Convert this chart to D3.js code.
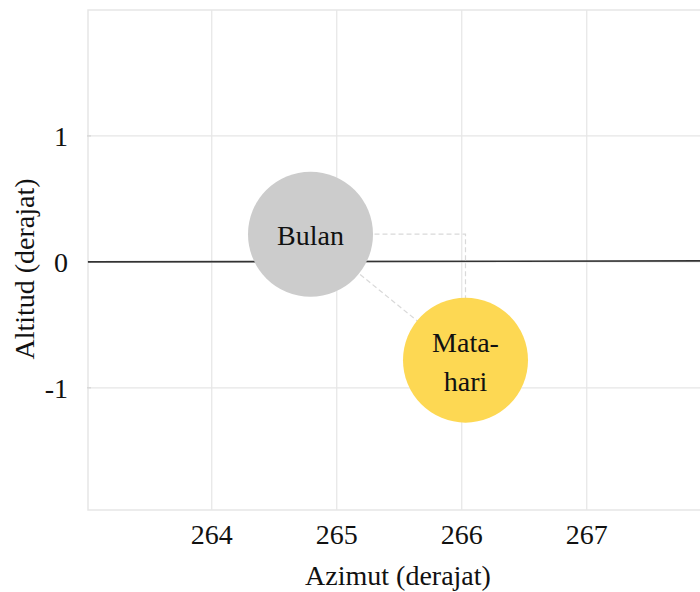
<!DOCTYPE html>
<html>
<head>
<meta charset="utf-8">
<script src="https://cdn.jsdelivr.net/npm/d3@7"></script>
<style>
  body { margin: 0; background: #fff; }
  svg { display: block; font-family: "Liberation Serif", "DejaVu Serif", serif; }
</style>
</head>
<body>
<div class="chart"></div>
<script>
// data
const bodyNames = ['Bulan', 'Matahari'];
const bodyLabels = [['Bulan'], ['Mata-', 'hari']];
const bodyAzimuth = [264.79, 266.03];
const bodyAltitude = [0.22, -0.78];
const bodyRadius = [0.5, 0.5];
const bodyColors = ['#cccccc', '#fdd853'];
const horizonAzimuth = [263.01, 267.97];
const horizonAltitude = [0.0, 0.008];
const xTicks = [264, 265, 266, 267];
const yTicks = [-1, 0, 1];

const W = 700, H = 592;
const margin = {top: 10, right: -8, bottom: 82, left: 88};
const width = W - margin.left - margin.right;
const height = H - margin.top - margin.bottom;

const svg = d3.select('.chart').append('svg')
    .attr('width', W)
    .attr('height', H);

const g = svg.append('g')
    .attr('transform', 'translate(' + margin.left + ',' + margin.top + ')');

const x = d3.scaleLinear().domain([263.01, 267.97]).range([0, width]);
const y = d3.scaleLinear().domain([-1.97, 2.0]).range([height, 0]);

const gridColor = '#e6e6e6';
const fs = 28;

// grid
g.append('g').selectAll('line').data(xTicks).enter().append('line')
    .attr('x1', d => x(d)).attr('x2', d => x(d))
    .attr('y1', 0).attr('y2', height)
    .attr('stroke', gridColor).attr('stroke-width', 1.2);
g.append('g').selectAll('line').data(yTicks).enter().append('line')
    .attr('x1', 0).attr('x2', width)
    .attr('y1', d => y(d)).attr('y2', d => y(d))
    .attr('stroke', gridColor).attr('stroke-width', 1.2);

// frame
g.append('rect')
    .attr('width', width).attr('height', height)
    .attr('fill', 'none').attr('stroke', gridColor).attr('stroke-width', 1.5);

// small ticks on left
g.append('g').selectAll('line').data(yTicks).enter().append('line')
    .attr('x1', -1).attr('x2', 3)
    .attr('y1', d => y(d)).attr('y2', d => y(d))
    .attr('stroke', '#cfcfcf');

// horizon
const horizon = horizonAzimuth.map((a, i) => [a, horizonAltitude[i]]);
g.append('path')
    .attr('d', d3.line().x(d => x(d[0])).y(d => y(d[1]))(horizon))
    .attr('fill', 'none').attr('stroke', '#333').attr('stroke-width', 1.6);

// connectors (centre to centre, and L shape)
const p0 = [x(bodyAzimuth[0]), y(bodyAltitude[0])];
const p1 = [x(bodyAzimuth[1]), y(bodyAltitude[1])];
g.append('line')
    .attr('x1', p0[0]).attr('y1', p0[1]).attr('x2', p1[0]).attr('y2', p1[1])
    .attr('stroke', '#d9d9d9').attr('stroke-width', 1.2).attr('stroke-dasharray', '5,3');
g.append('path')
    .attr('d', d3.line()([p0, [p1[0], p0[1]], p1]))
    .attr('fill', 'none')
    .attr('stroke', '#d9d9d9').attr('stroke-width', 1.2).attr('stroke-dasharray', '5,3');

// bodies
const bodies = g.append('g').selectAll('g').data(bodyNames).enter().append('g')
    .attr('transform', (d, i) => 'translate(' + x(bodyAzimuth[i]) + ',' + y(bodyAltitude[i]) + ')');

bodies.append('circle')
    .attr('r', (d, i) => x(bodyAzimuth[i] + bodyRadius[i]) - x(bodyAzimuth[i]))
    .attr('fill', (d, i) => bodyColors[i]);

bodies.each(function(d, i) {
    const lines = bodyLabels[i];
    const lh = 39;
    d3.select(this).selectAll('text').data(lines).enter().append('text')
        .attr('text-anchor', 'middle')
        .attr('y', (t, j) => (j - (lines.length - 1) / 2) * lh + 11)
        .attr('font-size', fs)
        .attr('fill', '#111')
        .text(t => t);
});

// axis labels
svg.append('g').selectAll('text').data(xTicks).enter().append('text')
    .attr('x', d => margin.left + x(d))
    .attr('y', 544)
    .attr('text-anchor', 'middle')
    .attr('font-size', fs)
    .attr('fill', '#111')
    .text(d => d);

svg.append('g').selectAll('text').data(yTicks).enter().append('text')
    .attr('x', 68)
    .attr('y', d => margin.top + y(d) + 10)
    .attr('text-anchor', 'end')
    .attr('font-size', fs)
    .attr('fill', '#111')
    .text(d => d);

svg.append('text')
    .attr('x', margin.left + width / 2)
    .attr('y', 585)
    .attr('text-anchor', 'middle')
    .attr('font-size', fs)
    .attr('fill', '#111')
    .text('Azimut (derajat)');

svg.append('text')
    .attr('transform', 'translate(34,269) rotate(-90)')
    .attr('text-anchor', 'middle')
    .attr('font-size', fs)
    .attr('fill', '#111')
    .text('Altitud (derajat)');
</script>
</body>
</html>
